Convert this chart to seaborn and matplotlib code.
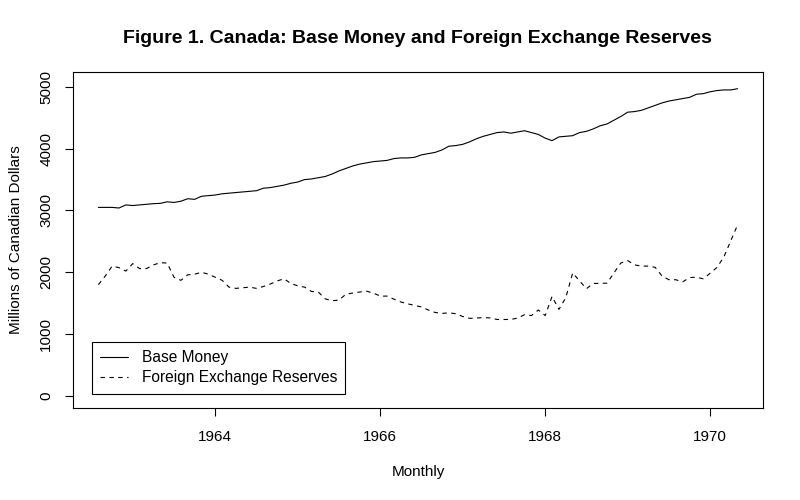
import numpy as np
import pandas as pd
import matplotlib
matplotlib.use("Agg")
import matplotlib.pyplot as plt
import seaborn as sns

# Monthly series, Aug 1962 - May 1970 (millions of Canadian dollars)
months = pd.date_range("1962-08-01", periods=94, freq="MS")

base_money = [
    3050, 3050, 3050, 3040, 3090, 3080, 3090, 3100, 3110, 3115,
    3140, 3130, 3150, 3190, 3180, 3230, 3240, 3250, 3270, 3280,
    3290, 3300, 3310, 3320, 3360, 3370, 3390, 3410, 3440, 3460,
    3500, 3510, 3530, 3550, 3590, 3640, 3680, 3720, 3750, 3770,
    3790, 3800, 3810, 3840, 3850, 3850, 3860, 3900, 3920, 3940,
    3980, 4040, 4050, 4070, 4110, 4160, 4200, 4230, 4260, 4270,
    4250, 4270, 4290, 4260, 4230, 4170, 4130, 4190, 4200, 4210,
    4260, 4280, 4320, 4370, 4400, 4460, 4520, 4590, 4600, 4620,
    4660, 4700, 4740, 4770, 4790, 4810, 4830, 4880, 4890, 4920,
    4940, 4950, 4950, 4970,
]

fx_reserves = [
    1800, 1940, 2100, 2075, 2020, 2140, 2060, 2060, 2120, 2155,
    2150, 1920, 1870, 1960, 1970, 2000, 1970, 1920, 1870, 1760,
    1740, 1750, 1760, 1740, 1770, 1810, 1860, 1895, 1820, 1780,
    1760, 1690, 1680, 1570, 1540, 1550, 1645, 1665, 1680, 1695,
    1665, 1615, 1615, 1565, 1520, 1490, 1465, 1440, 1390, 1350,
    1335, 1345, 1330, 1285, 1255, 1260, 1268, 1262, 1237, 1237,
    1237, 1260, 1315, 1300, 1390, 1300, 1610, 1400, 1590, 1990,
    1860, 1735, 1820, 1820, 1825, 1990, 2150, 2190, 2120, 2100,
    2100, 2080, 1940, 1880, 1880, 1845, 1915, 1920, 1895, 1985,
    2080, 2250, 2510, 2770,
]

series_names = ["Base Money", "Foreign Exchange Reserves"]
x_ticks = [1964, 1966, 1968, 1970]
y_ticks = [0, 1000, 2000, 3000, 4000, 5000]

# decimal year, like an R ts time axis
t = months.year + (months.month - 1) / 12

df = pd.DataFrame({
    "t": np.concatenate([t, t]),
    "value": base_money + fx_reserves,
    "series": [series_names[0]] * len(t) + [series_names[1]] * len(t),
})

sns.set_style("ticks")
plt.rcParams["font.family"] = ["Liberation Sans", "DejaVu Sans"]
plt.rcParams.update({"text.color": "black", "axes.labelcolor": "black",
                     "xtick.color": "black", "ytick.color": "black"})

fig = plt.figure(figsize=(8, 5), dpi=100)
ax = fig.add_axes([0.091, 0.184, 0.863, 0.672])

sns.lineplot(data=df, x="t", y="value", style="series", color="black",
             dashes={series_names[0]: "", series_names[1]: (4, 4)},
             linewidth=0.8, ax=ax)

ax.set_xlim(1962.273, 1970.643)
ax.set_ylim(-195, 5240)
ax.set_xticks(x_ticks)
ax.set_yticks(y_ticks)
ax.set_yticklabels([str(v) for v in y_ticks], rotation=90, va="center")
ax.tick_params(axis="both", direction="out", length=6, width=0.8,
               labelsize=11, color="black", labelcolor="black")
ax.tick_params(axis="x", pad=10)
ax.tick_params(axis="y", pad=8)
for s in ax.spines.values():
    s.set_visible(True)
    s.set_linewidth(0.8)
    s.set_color("black")

ax.set_xlabel("Monthly", fontsize=11, labelpad=15, color="black")
ax.set_ylabel("Millions of Canadian Dollars", fontsize=11, labelpad=12,
              color="black")
fig.suptitle("Figure 1. Canada: Base Money and Foreign Exchange Reserves",
             x=0.522, y=0.94, fontsize=14, fontweight="bold", color="black")

leg = ax.legend(loc="lower left", bbox_to_anchor=(0.0275, 0.0417),
                borderaxespad=0, fancybox=False, framealpha=1,
                edgecolor="black", fontsize=11.2, handlelength=1.8,
                handletextpad=0.85, labelspacing=0.32, borderpad=0.55,
                title=None)
leg.get_frame().set_linewidth(0.8)
for line in leg.get_lines():
    line.set_linewidth(0.8)
for txt in leg.get_texts():
    txt.set_color("black")

fig.savefig("out.png", dpi=100)
